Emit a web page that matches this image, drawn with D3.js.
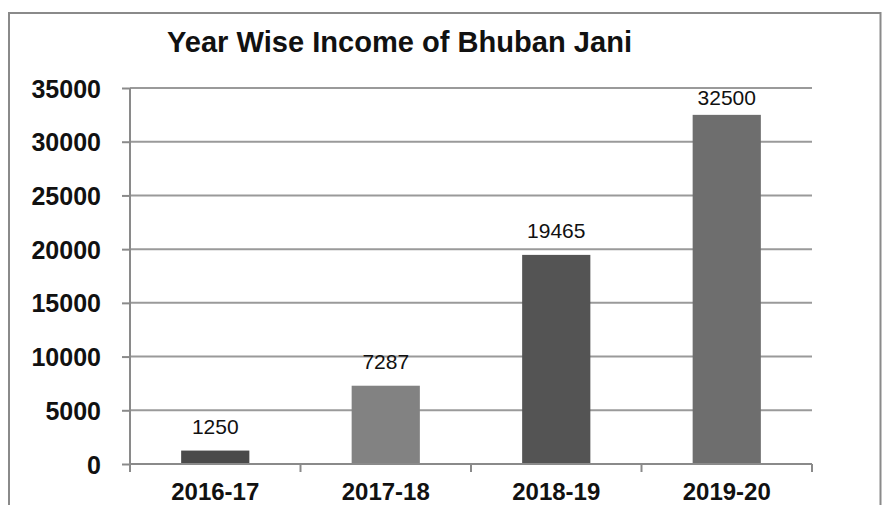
<!DOCTYPE html>
<html><head><meta charset="utf-8">
<script src="https://cdn.jsdelivr.net/npm/d3@7"></script>
<style>body{margin:0;background:#fff;} svg{display:block;}</style>
</head><body>
<svg id="c" width="887" height="505"></svg>
<script>
const categories = ["2016-17","2017-18","2018-19","2019-20"];
const values = [1250, 7287, 19465, 32500];
const barColors = ["#4a4a4a","#828282","#545454","#6e6e6e"];
const yTicks = [0,5000,10000,15000,20000,25000,30000,35000];
const title = "Year Wise Income of Bhuban Jani";

const svg = d3.select("#c");
const font = "'Liberation Sans', Arial, sans-serif";
// frame
svg.append("path").attr("d","M9,505V13H880.5V505").attr("fill","none").attr("stroke","#8a8a8a").attr("stroke-width",2);

const x = d3.scaleBand().domain(categories).range([130,812]).padding(0);
const y = d3.scaleLinear().domain([0,35000]).range([464,88]);

// gridlines
svg.append("g").selectAll("line").data(yTicks.filter(d=>d>0)).join("line")
  .attr("x1",130).attr("x2",812).attr("y1",d=>y(d)).attr("y2",d=>y(d))
  .attr("stroke","#9a9a9a").attr("stroke-width",2);

// bars
const bw = x.bandwidth()*0.4;
svg.append("g").selectAll("rect").data(values).join("rect")
  .attr("x",(d,i)=>x(categories[i])+x.bandwidth()/2-bw/2)
  .attr("width",bw)
  .attr("y",d=>y(d)).attr("height",d=>y(0)-y(d))
  .attr("fill",(d,i)=>barColors[i]);

// y axis
const ya = svg.append("g").attr("transform","translate(130,0)")
  .call(d3.axisLeft(y).tickValues(yTicks).tickSize(8).tickPadding(21).tickFormat(d3.format("d")));
ya.select(".domain").attr("stroke","#8a8a8a").attr("stroke-width",2).attr("d","M0,88V464");
ya.selectAll(".tick line").attr("stroke","#8a8a8a").attr("stroke-width",2);
ya.selectAll(".tick text").attr("font-family",font).attr("font-weight","bold").attr("font-size",25).attr("fill","#111").attr("dy","0.36em");

// x axis
const xa = svg.append("g").attr("transform","translate(0,464)")
  .call(d3.axisBottom(x).tickSize(0).tickPadding(0));
xa.select(".domain").attr("stroke","#8a8a8a").attr("stroke-width",2).attr("d","M130,0H812");
xa.selectAll(".tick text").attr("font-family",font).attr("font-weight","bold").attr("font-size",24).attr("fill","#111")
  .attr("y",36).attr("dy",0);
// boundary ticks between categories
const bounds = categories.map(c=>x(c)).concat([x.range()[1]]);
svg.append("g").selectAll("line").data(bounds).join("line")
  .attr("x1",d=>d).attr("x2",d=>d).attr("y1",464).attr("y2",472)
  .attr("stroke","#8a8a8a").attr("stroke-width",2);

// data labels
svg.append("g").selectAll("text").data(values).join("text")
  .attr("x",(d,i)=>x(categories[i])+x.bandwidth()/2)
  .attr("y",d=>Math.max(y(d)-17, y(35000)+17))
  .attr("text-anchor","middle").attr("font-family",font).attr("font-size",21).attr("fill","#111")
  .text(d=>d);

// title
svg.append("text").attr("x",167).attr("y",52).attr("font-family",font).attr("font-weight","bold")
  .attr("font-size",30).attr("fill","#111").attr("textLength",465).attr("lengthAdjust","spacingAndGlyphs").text(title);
</script>
</body></html>
